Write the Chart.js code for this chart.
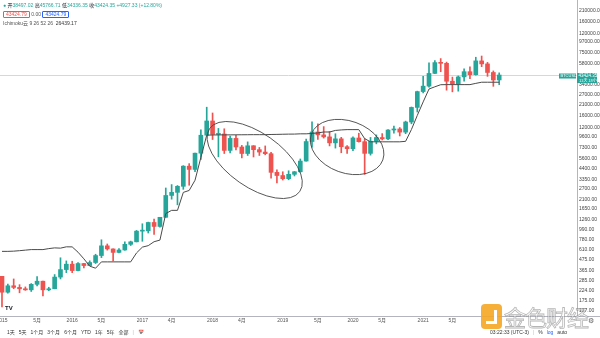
<!DOCTYPE html>
<html>
<head>
<meta charset="utf-8">
<script src="https://cdn.jsdelivr.net/npm/chart.js@4.4.1/dist/chart.umd.min.js"></script>
<style>
  html, body { margin: 0; padding: 0; background: #fff; }
  #wrap { position: relative; width: 600px; height: 338px; overflow: hidden;
          font-family: "Liberation Sans", "Noto Sans CJK SC", sans-serif; }
  #wrap canvas { position: absolute; left: 0; top: 0; }
  .row { position: absolute; left: 3px; font-size: 5px; line-height: 6px; white-space: nowrap; color: #131722; }
  .row b { font-weight: normal; color: #26a69a; }
  .box { display: inline-block; border: 1px solid; border-radius: 1px; padding: 0 2px; line-height: 5px; }
  .bar { position: absolute; top: 329px; font-size: 5px; line-height: 6px; white-space: nowrap; color: #333; }
  .bar span { margin-right: 4px; }
  .wm { position: absolute; left: 504px; top: 302px; font-size: 22px; line-height: 28px; letter-spacing: -1px;
        font-family: "Noto Sans CJK SC", sans-serif; color: rgba(255,255,255,0.55);
        -webkit-text-stroke: 0.8px rgba(110,110,110,0.5); }
  .logo { position: absolute; left: 481px; top: 304px; width: 21px; height: 25px; border-radius: 4px;
          background: rgba(245,166,35,0.9); }
  .logo i { position: absolute; left: 5px; top: 6px; width: 8px; height: 11px; border-right: 3px solid #fff;
            border-bottom: 3px solid #fff; }
</style>
</head>
<body>
<div id="wrap">
  <canvas id="btc" width="600" height="338"></canvas>

  <div class="row" style="top:2px;"><span style="color:#26a69a;">●</span> 开<b>38497.02</b> 高<b>45766.71</b> 低<b>34336.35</b> 收<b>43424.35</b> <b>+4927.33 (+12.80%)</b></div>
  <div class="row" style="top:11px;"><span class="box" style="color:#ef5350;border-color:#ef5350;">43424.79</span> <span style="color:#555;">0.00</span> <span class="box" style="color:#2962ff;border-color:#2962ff;">43424.79</span></div>
  <div class="row" style="top:20px;color:#555;">Ichimoku云 9 26 52 26 &nbsp;<span style="color:#333;">26439.17</span></div>

  <div class="row" style="top:305px;left:5px;font-size:6px;font-weight:bold;">TV</div>

  <div class="bar" style="left:7px;"><span>1天</span><span>5天</span><span>1个月</span><span>3个月</span><span>6个月</span><span>YTD</span><span>1年</span><span>5年</span><span>全部</span><span style="color:#bbb;">|</span><span>📅</span></div>
  <div class="bar" style="left:490px;"><span>03:22:33 (UTC-3)</span><span style="color:#bbb;">|</span><span>%</span><span style="color:#2962ff;">log</span><span>auto</span></div>
  <div class="row" style="top:318px;left:588px;font-size:7px;color:#666;">⚙</div>

  <div class="logo"><i></i></div>
  <div class="wm">金色财经</div>
</div>

<script>
// monthly BTC candles, Jan 2015 .. Feb 2022
const months = [
  '2015-01','2015-02','2015-03','2015-04','2015-05','2015-06','2015-07','2015-08','2015-09','2015-10','2015-11','2015-12',
  '2016-01','2016-02','2016-03','2016-04','2016-05','2016-06','2016-07','2016-08','2016-09','2016-10','2016-11','2016-12',
  '2017-01','2017-02','2017-03','2017-04','2017-05','2017-06','2017-07','2017-08','2017-09','2017-10','2017-11','2017-12',
  '2018-01','2018-02','2018-03','2018-04','2018-05','2018-06','2018-07','2018-08','2018-09','2018-10','2018-11','2018-12',
  '2019-01','2019-02','2019-03','2019-04','2019-05','2019-06','2019-07','2019-08','2019-09','2019-10','2019-11','2019-12',
  '2020-01','2020-02','2020-03','2020-04','2020-05','2020-06','2020-07','2020-08','2020-09','2020-10','2020-11','2020-12',
  '2021-01','2021-02','2021-03','2021-04','2021-05','2021-06','2021-07','2021-08','2021-09','2021-10','2021-11','2021-12',
  '2022-01','2022-02'
];

const opens = [
  320, 217, 254, 244, 236, 230, 263, 284, 230, 236, 314, 377,
  430, 368, 437, 416, 448, 531, 673, 624, 573, 608, 698, 742,
  963, 970, 1190, 1080, 1350, 2300, 2480, 2875, 4700, 4340, 6450, 10000,
  14150, 10200, 10300, 6900, 9250, 7500, 6400, 7730, 7030, 6630, 6370, 4040,
  3740, 3460, 3850, 4100, 5320, 8570, 10820, 10080, 9600, 8300, 9150, 7550,
  7190, 9350, 8540, 6420, 8630, 9450, 9140, 11350, 11650, 10780, 13800, 19700,
  28990, 33110, 45140, 58800, 57750, 37300, 35040, 41460, 47100, 43790, 61300, 56950,
  46200, 38497.02
];
const highs = [
  320, 265, 300, 261, 247, 268, 318, 285, 245, 334, 503, 466,
  462, 448, 440, 467, 548, 780, 704, 627, 629, 742, 755, 980,
  1153, 1200, 1290, 1350, 2760, 3000, 2930, 4760, 5000, 6470, 11400, 19800,
  17200, 11800, 11700, 9800, 10000, 7800, 8500, 7760, 7420, 7700, 6600, 4300,
  4100, 4200, 4130, 5600, 9100, 13900, 13200, 12330, 10950, 10370, 9500, 7750,
  9600, 10500, 9190, 9470, 10070, 10400, 11450, 12480, 12060, 14100, 19900, 29300,
  41950, 58350, 61780, 64850, 59500, 41300, 42400, 50500, 52920, 67000, 69000, 59100,
  47990, 45766.71
];
const lows = [
  152, 212, 236, 214, 227, 221, 253, 198, 225, 236, 300, 350,
  350, 365, 393, 414, 437, 505, 606, 466, 565, 604, 678, 740,
  752, 920, 890, 1060, 1350, 2100, 1830, 2670, 2950, 4110, 5550, 10400,
  9000, 5900, 6400, 6500, 7000, 5750, 6100, 5880, 6100, 6200, 3500, 3120,
  3350, 3370, 3700, 4050, 5320, 7480, 9050, 9320, 7700, 7300, 6520, 6430,
  6850, 8450, 3850, 6150, 8100, 8900, 8950, 10530, 9820, 10370, 13200, 17600,
  28130, 32300, 45000, 47050, 30000, 28800, 29280, 37330, 39600, 43290, 53250, 42000,
  32950, 34336.35
];
const closes = [
  217, 254, 244, 236, 230, 263, 284, 230, 236, 314, 377, 430,
  368, 437, 416, 448, 531, 673, 624, 573, 608, 698, 742, 963,
  970, 1190, 1080, 1350, 2300, 2480, 2875, 4700, 4340, 6450, 10000, 14150,
  10200, 10300, 6900, 9250, 7500, 6400, 7730, 7030, 6630, 6370, 4040, 3740,
  3460, 3850, 4100, 5320, 8570, 10820, 10080, 9600, 8300, 9150, 7550, 7190,
  9350, 8540, 6420, 8630, 9450, 9140, 11350, 11650, 10780, 13800, 19700, 28990,
  33110, 45140, 58800, 57750, 37300, 35040, 41460, 47100, 43790, 61300, 56950, 46200,
  38497.02, 43424.35
];

// Ichimoku base line
const baseLine = [
  588, 588, 591, 598, 606, 614, 614, 614, 629, 640, 636, 657,
  656, 576, 490, 410, 390, 455, 455, 455, 455, 455, 455, 566,
  652, 676, 744, 774, 1479, 1599, 1599, 2479, 2599, 3334, 5812, 10018,
  10050, 10075, 10075, 10082, 10096, 10107, 10118, 10133, 10133, 10133, 10182, 10202,
  10239, 10270, 10276, 10345, 10345, 10430, 10575, 10815, 10815, 11235, 11375, 11460,
  11460, 11460, 9200, 8510, 8510, 8510, 8510, 8510, 8510, 8610, 11510, 16210,
  22535, 30850, 32575, 34275, 34350, 34350, 34350, 34350, 34350, 35425, 36425, 36425,
  36425, 36425
];

// time axis labels (month index -> text)
const xTickIdx = [0, 6, 12, 17, 24, 29, 36, 41, 48, 54, 60, 65, 72, 77];
const xTickText = ['2015', '5月', '2016', '5月', '2017', '4月', '2018', '4月', '2019', '5月', '2020', '5月', '2021', '5月'];

// price axis labels
const yTickVals = [210000, 160000, 120000, 97000, 75000, 58000, 34000, 27000, 21000, 16000, 12000,
  9600, 7300, 5600, 4400, 3350, 2700, 2100, 1650, 1260, 990, 780, 610, 475, 365, 285, 224, 175, 137];

// hand-drawn rings: centre at (month index, price), radii in px, tilt in degrees
const rings = [
  { at: 43.2, price: 5460, rx: 55, ry: 27, tilt: 35 },
  { at: 59.0, price: 7500, rx: 38, ry: 26, tilt: 20 }
];

const UP = '#26a69a';
const DOWN = '#ef5350';
const lastClose = closes[closes.length - 1];
const candleColors = closes.map((c, i) => c >= opens[i] ? UP : DOWN);

const overlay = {
  id: 'overlay',
  beforeDatasetsDraw(chart) {
    const { ctx, chartArea, scales } = chart;
    const py = Math.round(scales.y.getPixelForValue(lastClose)) + 0.5;
    ctx.save();
    ctx.strokeStyle = '#d3d7de';
    ctx.lineWidth = 1;
    ctx.beginPath();
    ctx.moveTo(chartArea.left, py);
    ctx.lineTo(chartArea.right, py);
    ctx.stroke();
    ctx.restore();
  },
  afterDatasetsDraw(chart) {
    const { ctx, scales } = chart;
    ctx.save();
    ctx.strokeStyle = '#444';
    ctx.lineWidth = 0.9;
    rings.forEach(r => {
      const cx = scales.x.getPixelForValue(r.at);
      const cy = scales.y.getPixelForValue(r.price);
      ctx.beginPath();
      ctx.ellipse(cx, cy, r.rx, r.ry, r.tilt * Math.PI / 180, 0, Math.PI * 2);
      ctx.stroke();
    });
    ctx.restore();
  },
  afterDraw(chart) {
    const { ctx, chartArea, scales } = chart;
    const py = scales.y.getPixelForValue(lastClose);
    ctx.save();
    // axis corner line
    ctx.strokeStyle = '#b2b5be';
    ctx.lineWidth = 1;
    ctx.beginPath();
    ctx.moveTo(chartArea.right, chartArea.bottom + 0.5);
    ctx.lineTo(600, chartArea.bottom + 0.5);
    ctx.stroke();
    // last price tag on the axis
    ctx.fillStyle = UP;
    ctx.fillRect(chartArea.right, py - 2, 20, 10);
    ctx.fillStyle = '#fff';
    ctx.font = '4.5px "Liberation Sans"';
    ctx.textBaseline = 'middle';
    ctx.textAlign = 'left';
    ctx.fillText(lastClose.toFixed(2), chartArea.right + 1.5, py + 0.6);
    ctx.font = '4px "Noto Sans CJK SC"';
    ctx.fillText('13天 18小时', chartArea.right + 2, py + 5);
    // symbol tag left of the axis
    ctx.fillStyle = UP;
    ctx.fillRect(chartArea.right - 18, py - 1.5, 17, 5);
    ctx.fillStyle = '#fff';
    ctx.font = '4px "Liberation Sans"';
    ctx.fillText('BTCUSD', chartArea.right - 16.5, py + 1);
    ctx.restore();
  }
};

new Chart(document.getElementById('btc'), {
  type: 'bar',
  data: {
    datasets: [
      {
        type: 'line',
        data: baseLine.map((v, i) => ({ x: i, y: v })),
        borderColor: '#4a4a4a',
        borderWidth: 1,
        pointRadius: 0,
        tension: 0,
        order: 0
      },
      {
        data: months.map((m, i) => ({ x: i, y: [opens[i], closes[i]] })),
        backgroundColor: candleColors,
        barThickness: 4,
        minBarLength: 1,
        grouped: false,
        order: 1
      },
      {
        data: months.map((m, i) => ({ x: i, y: [lows[i], highs[i]] })),
        backgroundColor: candleColors,
        barThickness: 1,
        grouped: false,
        order: 2
      }
    ]
  },
  options: {
    responsive: false,
    animation: false,
    layout: { padding: 0 },
    plugins: { legend: { display: false }, tooltip: { enabled: false } },
    scales: {
      x: {
        type: 'linear',
        offset: false,
        min: -0.34,
        max: 98.3,
        grid: { display: false, drawTicks: false, offset: false },
        border: { display: true, color: '#b2b5be' },
        afterBuildTicks: axis => { axis.ticks = xTickIdx.map(v => ({ value: v })); },
        afterFit: axis => { axis.height = 22; axis.paddingLeft = 0; axis.paddingRight = 0; },
        ticks: {
          autoSkip: false,
          maxRotation: 0,
          padding: 2,
          color: '#555',
          font: { size: 5, family: '"Liberation Sans", "Noto Sans CJK SC"' },
          callback: (v, i) => xTickText[i]
        }
      },
      y: {
        type: 'logarithmic',
        position: 'right',
        min: 121.5,
        max: 270700,
        grid: { display: false, drawTicks: false },
        border: { display: true, color: '#b2b5be' },
        afterBuildTicks: axis => { axis.ticks = yTickVals.map(v => ({ value: v })); },
        afterFit: axis => { axis.width = 23; axis.paddingTop = 0; axis.paddingBottom = 0; },
        ticks: {
          autoSkip: false,
          padding: 2,
          color: '#444',
          font: { size: 5, family: '"Liberation Sans"' },
          callback: v => Number(v).toFixed(2)
        }
      }
    }
  },
  plugins: [overlay]
});
</script>
</body>
</html>
